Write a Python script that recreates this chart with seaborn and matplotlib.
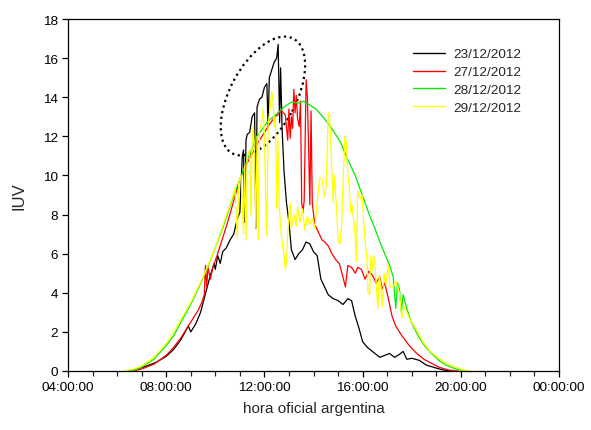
import numpy as np
import pandas as pd
import matplotlib
matplotlib.use("Agg")
import matplotlib.pyplot as plt
import matplotlib.ticker as mticker
from matplotlib.patches import Ellipse
from matplotlib.transforms import IdentityTransform
import seaborn as sns

# ---- data (hour of day, IUV) ----
dates = ["23/12/2012", "27/12/2012", "28/12/2012", "29/12/2012"]
colors = ["#000000", "#ff0000", "#00ee00", "#ffff00"]

h_23 = [6.4, 6.8, 7.2, 7.6, 8.0, 8.3, 8.6, 8.9, 9.0, 9.2, 9.4, 9.65, 9.8, 9.95, 10.0, 10.1, 10.2, 10.3,
        10.45, 10.6, 10.75, 10.9, 11.0, 11.1, 11.15, 11.2, 11.25, 11.3, 11.4, 11.5, 11.6, 11.65, 11.7,
        11.8, 11.9, 12.0, 12.1, 12.15, 12.2, 12.3, 12.4, 12.5, 12.56, 12.62, 12.66, 12.72, 12.8, 12.9,
        13.0, 13.1, 13.25, 13.4, 13.55, 13.7, 13.85, 14.0, 14.15, 14.3, 14.45, 14.6, 14.8, 15.0, 15.2,
        15.4, 15.55, 15.7, 15.85, 16.0, 16.2, 16.4, 16.6, 16.7, 16.9, 17.1, 17.3, 17.5, 17.65, 17.8,
        18.0, 18.3, 18.6, 19.0, 19.3, 19.6]
v_23 = [0.0, 0.1, 0.25, 0.45, 0.75, 1.1, 1.6, 2.3, 2.0, 2.4, 3.0, 4.2, 4.9, 5.5, 5.2, 5.9, 5.5, 6.1,
        6.3, 6.7, 7.0, 7.8, 8.1, 11.0, 11.3, 7.6, 11.8, 12.1, 12.2, 13.0, 13.2, 7.3, 13.5,
        13.9, 14.0, 14.5, 14.7, 12.5, 15.0, 15.4, 15.8, 16.0, 16.7, 12.7, 15.5, 12.4, 10.2, 8.6,
        7.6, 6.2, 5.7, 6.0, 6.2, 6.6, 6.5, 6.1, 5.9, 4.7, 4.3, 3.9, 3.7, 3.6, 3.4,
        3.7, 3.6, 2.8, 2.2, 1.5, 1.2, 1.0, 0.8, 0.7, 0.8, 0.9, 0.7, 0.85, 1.0, 0.6,
        0.65, 0.55, 0.3, 0.15, 0.05, 0.0]

h_27 = [6.6, 7.0, 7.5, 8.0, 8.3, 8.6, 9.0, 9.3, 9.45, 9.55, 9.6, 9.65, 9.7, 9.8, 9.9, 10.07, 10.3,
        10.5, 10.75, 11.0, 11.2, 11.45, 11.75, 12.0, 12.25, 12.45, 12.7, 12.85, 12.95, 13.0, 13.05,
        13.1, 13.15, 13.2, 13.25, 13.3, 13.35, 13.42, 13.47, 13.52, 13.57, 13.62, 13.7, 13.75, 13.8,
        13.85, 13.9, 13.95, 14.05, 14.2, 14.35, 14.45, 14.6, 14.75, 14.9, 15.05, 15.2, 15.3, 15.4,
        15.55, 15.7, 15.8, 15.95, 16.1, 16.25, 16.4, 16.55, 16.7, 16.8, 16.9, 17.05, 17.2, 17.35,
        17.6, 17.9, 18.2, 18.5, 18.8, 19.1, 19.5, 19.9]
v_27 = [0.0, 0.1, 0.35, 0.8, 1.2, 1.7, 2.5, 3.1, 3.5, 3.9, 5.4, 4.3, 5.3, 4.7, 5.3, 5.9, 6.8,
        7.6, 8.7, 9.8, 10.4, 11.0, 11.7, 12.2, 12.7, 13.0, 13.3, 13.1, 11.8, 13.4, 11.9,
        13.0, 12.4, 14.4, 13.2, 14.1, 12.9, 12.5, 13.8, 8.6, 8.1, 8.7, 14.9, 14.0, 11.5,
        8.5, 13.3, 8.6, 7.5, 7.1, 6.7, 6.6, 6.4, 6.0, 5.7, 5.5, 4.8, 4.3, 5.4,
        5.3, 5.0, 5.3, 5.2, 4.7, 5.1, 4.9, 4.5, 4.8, 4.2, 4.5, 3.7, 2.8, 2.3,
        1.8, 1.3, 0.9, 0.6, 0.4, 0.2, 0.05, 0.0]

h_28 = [6.4, 6.7, 7.0, 7.5, 8.0, 8.3, 8.6, 9.0, 9.3, 9.66, 10.0, 10.3, 10.7, 11.0, 11.3, 11.7, 12.1,
        12.45, 12.8, 13.1, 13.4, 13.6, 13.85, 14.1, 14.45, 14.8, 15.1, 15.4, 15.7, 15.9, 16.1, 16.3,
        16.5, 16.7, 16.9, 17.1, 17.25, 17.35, 17.42, 17.5, 17.58, 17.65, 17.8, 17.95, 18.1, 18.3,
        18.55, 18.8, 19.1, 19.4, 19.7, 20.0, 20.3]
v_28 = [0.0, 0.05, 0.2, 0.6, 1.3, 1.8, 2.5, 3.4, 4.2, 5.2, 6.3, 7.3, 8.8, 9.8, 10.8, 12.0, 12.7,
        13.1, 13.5, 13.75, 13.7, 13.8, 13.6, 13.4, 12.9, 12.3, 11.7, 10.8, 10.0, 9.3, 8.6, 7.9,
        7.3, 6.6, 6.0, 5.4, 4.8, 3.2, 4.5, 4.2, 3.0, 3.9, 3.2, 2.6, 2.2, 1.7,
        1.25, 0.9, 0.55, 0.3, 0.15, 0.05, 0.0]

h_29 = [6.3, 6.7, 7.0, 7.5, 8.0, 8.5, 9.0, 9.5, 10.0, 10.3, 10.6, 10.8, 10.9, 10.95, 11.05, 11.15,
        11.2, 11.25, 11.3, 11.4, 11.45, 11.5, 11.55, 11.6, 11.65, 11.7, 11.75, 11.8, 11.9, 11.95,
        12.0, 12.05, 12.1, 12.15, 12.25, 12.3, 12.35, 12.4, 12.45, 12.5, 12.55, 12.6, 12.65, 12.7,
        12.8, 12.85, 12.9, 12.95, 13.0, 13.05, 13.1, 13.2, 13.3, 13.35, 13.45, 13.55, 13.65, 13.75,
        13.85, 13.95, 14.05, 14.15, 14.25, 14.35, 14.45, 14.52, 14.6, 14.65, 14.72, 14.8, 14.85,
        14.95, 15.0, 15.08, 15.15, 15.2, 15.28, 15.33, 15.4, 15.45, 15.52, 15.57, 15.63, 15.7,
        15.75, 15.8, 15.9, 15.98, 16.05, 16.12, 16.18, 16.22, 16.28, 16.33, 16.4, 16.45, 16.5,
        16.55, 16.62, 16.68, 16.75, 16.8, 16.88, 16.95, 17.05, 17.12, 17.25, 17.35, 17.5, 17.6,
        17.7, 17.9, 18.1, 18.45, 18.75, 19.15, 19.55, 20.1, 20.4]
v_29 = [0.0, 0.1, 0.25, 0.7, 1.4, 2.4, 3.5, 4.8, 6.3, 7.4, 8.5, 9.3, 6.8, 9.6, 10.0, 7.0,
        10.5, 6.7, 11.0, 11.3, 8.0, 11.8, 12.5, 11.0, 7.3, 12.0, 6.7, 12.3, 12.8, 13.4,
        12.0, 9.0, 6.9, 12.6, 13.6, 14.3, 13.8, 12.5, 13.0, 8.3, 11.9, 8.5, 7.6, 6.8,
        5.9, 5.2, 5.6, 7.0, 7.9, 8.6, 7.3, 8.0, 7.4, 8.4, 7.6, 8.3, 7.2, 7.9,
        7.5, 7.8, 7.3, 8.6, 9.9, 9.8, 8.9, 9.5, 13.2, 13.1, 11.2, 8.6, 10.0,
        8.1, 6.7, 6.5, 7.5, 9.5, 12.0, 11.8, 10.0, 9.5, 8.1, 8.5, 7.8, 6.9,
        5.6, 9.2, 8.8, 9.0, 7.6, 6.4, 5.7, 4.0, 3.9, 5.9, 5.2, 5.9, 5.6,
        4.5, 3.2, 4.9, 4.3, 3.3, 5.0, 4.4, 5.4, 4.3, 4.3, 4.6, 4.0, 2.7,
        3.3, 2.7, 2.3, 1.5, 1.0, 0.6, 0.3, 0.05, 0.0]

x_ticks = [4, 8, 12, 16, 20, 24]
x_tick_labels = ["04:00:00", "08:00:00", "12:00:00", "16:00:00", "20:00:00", "00:00:00"]
y_ticks = [0, 2, 4, 6, 8, 10, 12, 14, 16, 18]

frames = []
for d, h, v in zip(dates, [h_23, h_27, h_28, h_29], [v_23, v_27, v_28, v_29]):
    frames.append(pd.DataFrame({"hora": h, "IUV": v, "fecha": d}))
df = pd.concat(frames, ignore_index=True)

# ---- style ----
sns.set_style("ticks")
plt.rcParams["font.family"] = ["Liberation Sans", "DejaVu Sans"]

fig = plt.figure(figsize=(5.91, 4.31), dpi=100)
ax = fig.add_axes([68 / 591, 1 - 372 / 431, (559 - 68) / 591, (372 - 20) / 431])

sns.lineplot(data=df, x="hora", y="IUV", hue="fecha", palette=dict(zip(dates, colors)),
             hue_order=dates, sort=False, estimator=None, linewidth=0.9, ax=ax)

ax.set_xlim(4, 24)
ax.set_ylim(0, 18)
ax.set_xticks(x_ticks)
ax.set_xticklabels(x_tick_labels)
ax.xaxis.set_minor_locator(mticker.MultipleLocator(1))
ax.set_yticks(y_ticks)
ax.tick_params(axis="both", which="major", direction="out", length=4, width=0.9,
               labelsize=9.7, colors="black", pad=3)
ax.tick_params(axis="x", which="minor", direction="out", length=3.5, width=0.9)
for s in ax.spines.values():
    s.set_visible(True)
    s.set_color("black")
    s.set_linewidth(0.9)

ax.set_xlabel("hora oficial argentina", fontsize=11, labelpad=6)
ax.set_ylabel("IUV", fontsize=12, labelpad=12)

# legend
handles, labels = ax.get_legend_handles_labels()
for hd in handles:
    hd.set_linewidth(1.0)
ax.legend(handles, labels, loc="upper left", bbox_to_anchor=((413 - 68) / 491, (372 - 49) / 352),
          frameon=False, fontsize=9.7, handlelength=2.4, handletextpad=0.6,
          labelspacing=0.4, borderpad=0, borderaxespad=0)

# dotted ellipse annotation around the 23/12 peak
ell_center = (11.94, 14.06)
cx, cy = ax.transData.transform(ell_center)
ell = Ellipse((cx, cy), width=130, height=66, angle=62, fill=False, edgecolor="black",
              linestyle=(0, (1, 1.6)), linewidth=1.6, transform=IdentityTransform(),
              clip_on=False)
ax.add_artist(ell)

fig.savefig("out.png", dpi=100)
